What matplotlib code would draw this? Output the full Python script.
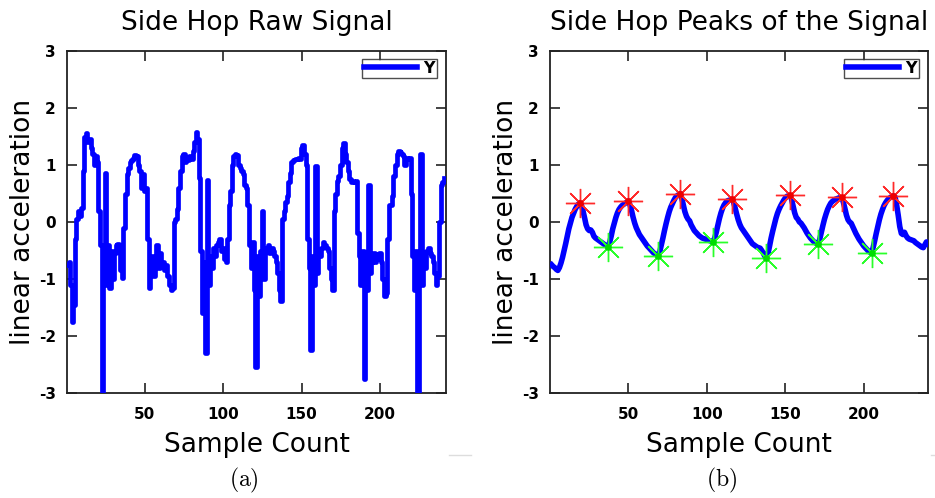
import numpy as np
import matplotlib
matplotlib.use("Agg")
import matplotlib.pyplot as plt
from matplotlib.lines import Line2D

plt.rcParams["mathtext.fontset"] = "cm"
plt.rcParams["font.family"] = ["DejaVu Sans"]

# Raw Y-axis linear acceleration of a side hop
raw_y = [
    -0.75, -0.70, -1.10, -1.75, -1.45, -0.30, 0.05, 0.20, 0.10, 0.25,
    0.90, 1.50, 1.56, 1.40, 1.45, 1.30, 1.20, 1.00, 1.15, 1.05,
    0.20, -0.40, -3.00, -0.90, 0.86, -1.10, -0.40, -1.15, -0.50, -1.00,
    -0.55, -0.40, -0.38, -0.50, -0.85, -0.98, -0.10, 0.50, 0.85, 0.95,
    1.05, 1.08, 1.12, 1.17, 1.15, 1.00, 0.90, 0.60, 0.85, 0.55,
    0.60, -0.30, -1.15, -0.80, -0.60, -0.95, -0.75, -0.40, -0.80, -0.55,
    -0.75, -0.70, -0.85, -0.75, -0.95, -1.10, -1.20, -1.15, 0.00, 0.05,
    0.22, 0.60, 0.90, 1.15, 1.20, 1.05, 1.10, 1.08, 1.15, 1.10,
    1.25, 1.40, 1.58, 1.45, 0.77, -0.50, -1.60, -0.70, -2.30, 0.74,
    -1.10, -0.60, -0.80, -0.45, -0.60, -0.40, -0.35, -0.30, -0.50, -0.45,
    -0.65, -0.70, -0.30, 0.30, 0.55, 1.00, 1.15, 1.20, 1.18, 1.00,
    0.95, 0.90, 0.85, 0.65, 0.60, 0.30, -0.40, -0.80, -0.35, -1.20,
    -2.55, -0.60, -1.30, -0.50, 0.20, -1.00, -0.50, -0.45, -0.40, -0.55,
    -0.45, -0.50, -0.60, -0.70, -0.90, -1.20, -1.38, 0.05, 0.20, 0.35,
    0.45, 0.70, 0.86, 1.05, 1.08, 1.10, 1.10, 1.12, 1.10, 1.30,
    1.35, 1.20, 1.00, -0.30, -0.80, -2.25, -0.60, -1.10, 0.98, -0.90,
    -0.50, -0.60, -0.45, -0.35, -0.40, -0.45, -0.50, -0.80, -1.00, -1.20,
    0.20, 0.50, 0.72, 0.80, 1.00, 1.30, 1.38, 1.20, 1.05, 0.90,
    0.75, 0.70, 0.72, 0.70, 0.72, -0.20, -0.60, -1.10, -0.50, -2.75,
    -0.90, -1.20, 0.65, -0.90, -0.70, -0.55, -0.70, -0.60, -0.65, -0.55,
    -0.70, -1.00, -1.30, -1.25, -0.30, 0.30, 0.30, 0.45, 0.80, 1.00,
    1.20, 1.25, 1.22, 1.20, 1.15, 1.00, 1.12, 1.10, 1.12, 0.50,
    -0.60, -1.20, -0.50, -3.00, -0.70, 1.20, -1.10, -0.60, -0.80, -0.50,
    -0.45, -0.55, -0.60, -0.70, -0.90, -1.10, -0.95, 0.00, 0.65, 0.70,
    0.78,
]

# Smoothed Y signal used for peak detection
smooth_y = [
    -0.75, -0.78, -0.80, -0.83, -0.85, -0.80, -0.72, -0.62, -0.50, -0.38,
    -0.25, -0.12, -0.02, 0.08, 0.15, 0.22, 0.27, 0.31, 0.34, 0.30,
    0.20, 0.08, -0.05, -0.12, -0.15, -0.14, -0.18, -0.25, -0.28, -0.30,
    -0.32, -0.34, -0.36, -0.38, -0.40, -0.42, -0.44, -0.36, -0.25, -0.12,
    -0.02, 0.08, 0.16, 0.22, 0.26, 0.29, 0.31, 0.33, 0.35, 0.37,
    0.30, 0.20, 0.08, -0.02, -0.10, -0.16, -0.22, -0.26, -0.30, -0.34,
    -0.38, -0.42, -0.45, -0.48, -0.51, -0.54, -0.56, -0.58, -0.60, -0.52,
    -0.40, -0.28, -0.15, -0.03, 0.08, 0.18, 0.26, 0.32, 0.38, 0.43,
    0.46, 0.48, 0.50, 0.42, 0.30, 0.18, 0.10, 0.05, 0.02, -0.05,
    -0.10, -0.15, -0.18, -0.21, -0.24, -0.26, -0.28, -0.29, -0.30, -0.31,
    -0.32, -0.33, -0.34, -0.35, -0.28, -0.18, -0.06, 0.06, 0.16, 0.24,
    0.30, 0.34, 0.37, 0.38, 0.39, 0.40, 0.35, 0.25, 0.14, 0.04,
    -0.04, -0.10, -0.14, -0.18, -0.22, -0.26, -0.30, -0.34, -0.38, -0.40,
    -0.42, -0.44, -0.45, -0.46, -0.50, -0.55, -0.60, -0.64, -0.55, -0.42,
    -0.28, -0.16, -0.05, 0.06, 0.15, 0.22, 0.28, 0.33, 0.38, 0.42,
    0.45, 0.46, 0.47, 0.40, 0.28, 0.16, 0.08, 0.05, 0.00, -0.02,
    -0.06, -0.10, -0.15, -0.20, -0.24, -0.28, -0.31, -0.34, -0.36, -0.38,
    -0.39, -0.30, -0.18, -0.06, 0.05, 0.14, 0.22, 0.28, 0.33, 0.36,
    0.38, 0.40, 0.41, 0.42, 0.43, 0.43, 0.35, 0.24, 0.12, 0.04,
    0.00, -0.02, -0.08, -0.14, -0.20, -0.25, -0.30, -0.34, -0.38, -0.42,
    -0.45, -0.48, -0.51, -0.53, -0.55, -0.45, -0.33, -0.20, -0.08, 0.04,
    0.14, 0.22, 0.29, 0.34, 0.38, 0.41, 0.43, 0.45, 0.46, 0.44,
    0.30, 0.12, -0.08, -0.20, -0.22, -0.18, -0.24, -0.28, -0.30, -0.31,
    -0.32, -0.33, -0.36, -0.38, -0.40, -0.42, -0.44, -0.45, -0.40, -0.35,
    -0.38,
]

# Detected maxima / minima (sample numbers)
peak_idx = [19, 50, 83, 116, 153, 186, 219]
valley_idx = [37, 69, 104, 138, 171, 205]

x_ticks = [50, 100, 150, 200]
y_ticks = [-3, -2, -1, 0, 1, 2, 3]

titles = ["Side Hop Raw Signal", "Side Hop Peaks of the Signal"]
captions = ["(a)", "(b)"]

W, H = 935, 498
fig = plt.figure(figsize=(W / 100, H / 100), dpi=100)


def frac(x0, y0, x1, y1):
    return [x0 / W, 1 - y1 / H, (x1 - x0) / W, (y1 - y0) / H]


ax1 = fig.add_axes(frac(67, 51, 446, 393))
ax2 = fig.add_axes(frac(550, 51, 928, 393))

xr = np.arange(1, len(raw_y) + 1)
xs = np.arange(1, len(smooth_y) + 1)
sy = np.array(smooth_y)

ax1.plot(xr, raw_y, color="#0000ff", lw=3.4, drawstyle="steps-mid",
         label="Y", zorder=3)
ax1.set_xlim(0.5, 242)

ax2.plot(xs, sy, color="#0000ff", lw=4.0, label="Y", zorder=3)
pk = np.array(peak_idx)
vl = np.array(valley_idx)
for idx, c_arm, c_dot in [(pk, "#ff2a2a", "#ee0000"),
                          (vl, "#2aff2a", "#00dd00")]:
    ax2.plot(idx, sy[idx - 1], ls="none", marker=(8, 2, 0), ms=21,
             mec=c_arm, mew=1.0, zorder=4)
    ax2.plot(idx, sy[idx - 1], ls="none", marker="o", ms=3.8, mfc=c_dot,
             mec=c_dot, zorder=5)
ax2.set_xlim(0, 241)

for ax, title, cap in zip([ax1, ax2], titles, captions):
    ax.set_ylim(-3, 3)
    ax.set_xticks(x_ticks)
    ax.set_yticks(y_ticks)
    ax.set_xticklabels([str(t) for t in x_ticks], fontweight="bold",
                       fontsize=11)
    ax.set_yticklabels([str(t) for t in y_ticks], fontweight="bold",
                       fontsize=11)
    ax.tick_params(direction="in", length=7.5, width=1.2, color="#222222",
                   top=True, right=True, pad=8)
    ax.tick_params(axis="x", pad=10)
    for s in ax.spines.values():
        s.set_linewidth(1.3)
        s.set_color("#222222")
    ax.set_title(title, fontsize=19, pad=15)
    ax.set_xlabel("Sample Count", fontsize=19, labelpad=7)
    ax.set_ylabel("linear acceleration", fontsize=19, labelpad=2)
    leg = ax.legend(handles=[Line2D([], [], color="#0000ff", lw=4.0)],
                    labels=["Y"], loc="upper right",
                    bbox_to_anchor=(0.975, 0.977), frameon=True,
                    fancybox=False, handlelength=3.3, handletextpad=0.4,
                    borderpad=0.12, borderaxespad=0.0,
                    prop={"weight": "bold", "size": 11.5})
    leg.get_frame().set_edgecolor("#222222")
    leg.get_frame().set_linewidth(1.0)

fig.text(244 / W, 1 - 480 / H, r"$\mathrm{(a)}$", ha="center", va="center",
         fontsize=17)
fig.text(722 / W, 1 - 480 / H, r"$\mathrm{(b)}$", ha="center", va="center",
         fontsize=17)

# thin separators under the panels
fig.add_artist(Line2D([449 / W, 471 / W], [1 - 455 / H, 1 - 455 / H],
                      color="#dddddd", lw=1.0))
fig.add_artist(Line2D([931 / W, 935 / W], [1 - 455 / H, 1 - 455 / H],
                      color="#dddddd", lw=1.0))

fig.savefig("out.png", dpi=100)
